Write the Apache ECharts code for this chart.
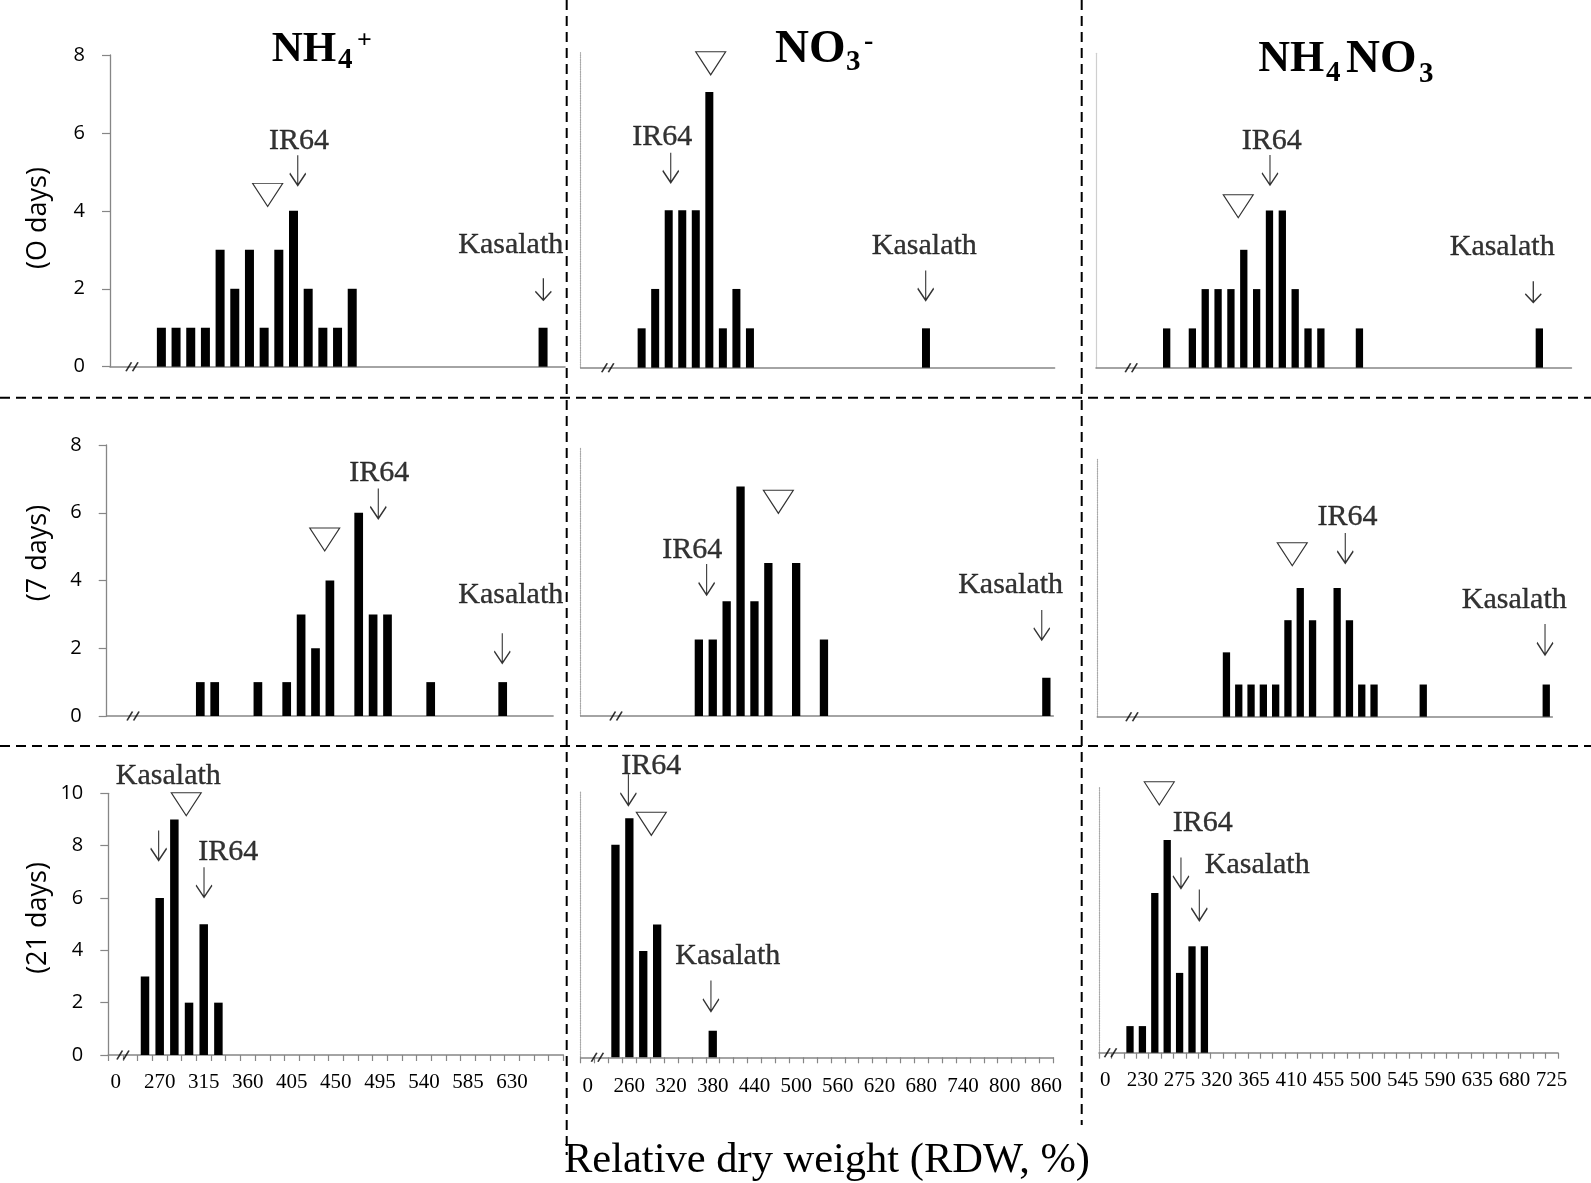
<!DOCTYPE html>
<html><head><meta charset="utf-8">
<script src="https://cdn.jsdelivr.net/npm/echarts@6/dist/echarts.min.js"></script>
<style>html,body{margin:0;padding:0;background:#fff}#c{width:1591px;height:1183px}</style>
</head><body><div id="c"></div>
<script>
// ---- category (bin) labels, RDW % ----
const binsNH4 = ['0','240','255','270','285','300','315','330','345','360','375','390','405','420','435','450','465','480','495','510','525','540','555','570','585','600','615','630','645','660','675'];
const binsNO3 = ['0','220','240','260','280','300','320','340','360','380','400','420','440','460','480','500','520','540','560','580','600','620','640','660','680','700','720','740','760','780','800','820','840','860','880'];
const binsNH4NO3 = ['0','200','215','230','245','260','275','290','305','320','335','350','365','380','395','410','425','440','455','470','485','500','515','530','545','560','575','590','605','620','635','650','665','680','695','710','725'];

// ---- number of lines per bin ----
const nh4Day0  = [0,0,0,1,1,1,1,3,2,3,1,3,4,2,1,1,2,0,0,0,0,0,0,0,0,0,0,0,0,1,0];
const nh4Day7  = [0,0,0,0,0,0,1,1,0,0,1,0,1,3,2,4,0,6,3,3,0,0,1,0,0,0,0,1,0,0,0];
const nh4Day21 = [0,0,3,6,9,2,5,2,0,0,0,0,0,0,0,0,0,0,0,0,0,0,0,0,0,0,0,0,0,0,0];
const no3Day0  = [0,0,0,0,1,2,4,4,4,7,1,2,1,0,0,0,0,0,0,0,0,0,0,0,0,1,0,0,0,0,0,0,0,0,0];
const no3Day7  = [0,0,0,0,0,0,0,0,2,2,3,6,3,4,0,4,0,2,0,0,0,0,0,0,0,0,0,0,0,0,0,0,0,1];
const no3Day21 = [0,0,8,9,4,5,0,0,0,1,0,0,0,0,0,0,0,0,0,0,0,0,0,0,0,0,0,0,0,0,0,0,0,0];
const nnDay0   = [0,0,0,0,0,1,0,1,2,2,2,3,2,4,4,2,1,1,0,0,1,0,0,0,0,0,0,0,0,0,0,0,0,0,1,0,0];
const nnDay7   = [0,0,0,0,0,0,0,0,0,0,2,1,1,1,1,3,4,3,0,4,3,1,1,0,0,0,1,0,0,0,0,0,0,0,0,0,1];
const nnDay21  = [0,0,1,1,6,8,3,4,4,0,0,0,0,0,0,0,0,0,0,0,0,0,0,0,0,0,0,0,0,0,0,0,0,0,0,0,0];

// ---- annotations in data units (x: bin position, y: count) ----
const notesNH4Day0  = [['text','IR64',12.87,5.78],['arrow',12.79,5.04,30],['tri',10.74,4.41],['text','Kasalath',27.3,3.12],['arrow',29.52,1.99,22],['break',1.5]];
const notesNH4Day7  = [['text','IR64',18.92,7.17],['arrow',18.86,6.27,30],['tri',15.14,5.21],['text','Kasalath',28.06,3.57],['arrow',27.47,2.0,30],['break',1.83]];
const notesNH4Day21 = [['text','Kasalath',4.09,10.66],['arrow',3.43,8.01,30],['tri',5.31,9.58],['text','IR64',8.17,7.76],['arrow',6.52,6.6,30],['break',1.0]];
const notesNO3Day0  = [['text','IR64',6.02,5.86],['arrow',6.65,5.08,30],['tri',9.6,7.73],['text','Kasalath',25.38,3.09],['arrow',25.48,2.09,30],['break',2.0]];
const notesNO3Day7  = [['text','IR64',8.02,4.35],['arrow',9.06,3.57,31],['tri',14.22,5.6],['text','Kasalath',30.93,3.42],['arrow',33.17,2.38,30],['break',2.54]];
const notesNO3Day21 = [['text','IR64',5.08,10.97],['arrow',3.43,10.07,31],['tri',5.08,8.79],['text','Kasalath',10.58,3.8],['arrow',9.37,2.31,31],['break',1.2]];
const notesNNDay0   = [['text','IR64',13.67,5.76],['arrow',13.54,5.03,30],['tri',11.07,4.11],['text','Kasalath',31.61,3.06],['arrow',34.03,1.93,21],['break',2.74]];
const notesNNDay7   = [['text','IR64',20.34,6.21],['arrow',20.16,5.24,30],['tri',15.85,5.05],['text','Kasalath',33.9,3.62],['arrow',36.4,2.4,31],['break',2.82]];
const notesNNDay21  = [['tri',4.86,9.75],['text','IR64',8.37,8.64],['arrow',6.61,6.76,31],['text','Kasalath',12.76,7.04],['arrow',8.09,5.55,31],['break',0.93]];

// ---- layout ----
const panels = [
  {bins:binsNH4, counts:nh4Day0, notes:notesNH4Day0, ymax:8, left:110, top:55, sp:14.68, h:311.7, ylab:true, yline:'solid', ticks:false, bw:9},
  {bins:binsNH4, counts:nh4Day7, notes:notesNH4Day7, ymax:8, left:106.7, top:445, sp:14.4, h:271, ylab:true, yline:'solid', ticks:false, bw:8.7},
  {bins:binsNH4, counts:nh4Day21, notes:notesNH4Day21, ymax:10, left:108.3, top:793.3, sp:14.68, h:261.7, ylab:true, yline:'solid', ticks:true, bw:8.5, lastLabel:27, lm:17},
  {bins:binsNO3, counts:no3Day0, notes:notesNO3Day0, ymax:8, left:580.7, top:52.7, sp:13.54, h:315, ylab:false, yline:'dotted', ticks:false, bw:8},
  {bins:binsNO3, counts:no3Day7, notes:notesNO3Day7, ymax:7, left:580.7, top:448.3, sp:13.9, h:267.7, ylab:false, yline:'dotted', ticks:false, bw:8.3},
  {bins:binsNO3, counts:no3Day21, notes:notesNO3Day21, ymax:10, left:580.7, top:791.7, sp:13.9, h:265.6, ylab:false, yline:'dotted', ticks:true, bw:8.3, lastLabel:33, lm:19},
  {bins:binsNH4NO3, counts:nnDay0, notes:notesNNDay0, ymax:8, left:1096, top:53.3, sp:12.85, h:314.4, ylab:false, yline:'light', ticks:false, bw:7.3},
  {bins:binsNH4NO3, counts:nnDay7, notes:notesNNDay7, ymax:8, left:1097.3, top:459.3, sp:12.3, h:257.4, ylab:false, yline:'dotted', ticks:false, bw:7.3},
  {bins:binsNH4NO3, counts:nnDay21, notes:notesNNDay21, ymax:10, left:1099, top:786.7, sp:12.4, h:266, ylab:false, yline:'dotted', ticks:true, bw:7.3, lastLabel:36, lm:17}
];

const SERIF = '"Liberation Serif","Times New Roman",serif';
const SANS = '"Open Sans","Liberation Sans",sans-serif';
const ARROW = 'path://M8,0 L8,30 M0,18 L8,30 L16,18';
const TRI = 'path://M0,0 L30,0 L15,23 Z';
const BRK = 'path://M0,9 L5,0 M6,9 L11,0';

const option = {animation:false, backgroundColor:'#fff', grid:[], xAxis:[], yAxis:[], series:[], graphic:{elements:[]}};

panels.forEach((p,i)=>{
  const n = p.counts.length;
  const last = p.lastLabel == null ? n : p.lastLabel;
  option.grid.push({left:p.left, top:p.top, width:n*p.sp, height:p.h, containLabel:false, outerBoundsMode:'none'});
  option.xAxis.push({type:'category', gridIndex:i, data:p.bins.slice(0,n), boundaryGap:true,
    axisLine:{show:true, onZero:false, lineStyle:{color:'#868686', width:1.5}},
    axisTick:{show:p.ticks, interval:0, length:6, lineStyle:{color:'#868686', width:1.2}},
    axisLabel:{show:p.ticks, interval:(idx)=>idx%3===0 && idx<=last, fontFamily:SERIF, fontSize:21, color:'#000', margin:p.lm||17, hideOverlap:false},
    splitLine:{show:false}});
  option.xAxis.push({type:'value', gridIndex:i, min:0, max:n, show:false});
  let yl;
  if (p.yline==='solid') yl = {color:'#868686', width:1.3, type:'solid'};
  else if (p.yline==='light') yl = {color:'#cfcfcf', width:1.2, type:'solid'};
  else yl = {color:'#a8a8a8', width:1.2, type:'dotted'};
  option.yAxis.push({type:'value', gridIndex:i, min:0, max:p.ymax, interval:2,
    axisLine:{show:true, lineStyle:yl},
    axisTick:{show:p.ylab, length:8, lineStyle:{color:'#868686', width:1.2}},
    axisLabel:{show:p.ylab, fontFamily:SANS, fontSize:20, color:'#000', margin:25},
    splitLine:{show:false}});
  option.series.push({type:'bar', xAxisIndex:2*i, yAxisIndex:i, data:p.counts, barWidth:p.bw, silent:true, itemStyle:{color:'#000'}});
  const pts = p.notes.map(nt=>{
    if (nt[0]==='text') return {value:[nt[2],nt[3]], symbol:'circle', symbolSize:1, itemStyle:{color:'rgba(0,0,0,0)'},
      label:{show:true, position:'inside', formatter:nt[1], fontFamily:SERIF, fontSize:30, color:'#000', textBorderColor:'#000', textBorderWidth:0.35}};
    if (nt[0]==='arrow') return {value:[nt[1],nt[2]], symbol:ARROW, symbolSize:[16,nt[3]], itemStyle:{color:'rgba(0,0,0,0)', borderColor:'#000', borderWidth:1.5}};
    if (nt[0]==='tri') return {value:[nt[1],nt[2]], symbol:TRI, symbolSize:[30,23], itemStyle:{color:'#fff', borderColor:'#000', borderWidth:1.1}};
    return {value:[nt[1],0], symbol:BRK, symbolSize:[12,9], itemStyle:{color:'rgba(0,0,0,0)', borderColor:'#000', borderWidth:1.5}};
  });
  option.series.push({type:'scatter', xAxisIndex:2*i+1, yAxisIndex:i, clip:false, silent:true, z:5, data:pts});
});

const G = option.graphic.elements;
function txt(x,y,t,font,align,rot){
  G.push({type:'text', x:x, y:y, rotation:rot||0, style:{text:t, font:font, fill:'#000', textAlign:align||'left', align:align||'left', textVerticalAlign:'middle', verticalAlign:'middle'}});
}
function dline(x1,y1,x2,y2){
  G.push({type:'line', shape:{x1,y1,x2,y2}, style:{stroke:'#000', lineWidth:2, lineDash:[10,6]}});
}
dline(566.7,0,566.7,1155);
dline(1081.7,0,1081.7,1125);
dline(0,397.7,1591,397.7);
dline(0,746,1591,746);

const TS = 'bold 29px '+SERIF;
txt(271.7,50,'NH','bold 43px '+SERIF); txt(338,61,'4',TS); txt(357,41,'+','bold 26px '+SERIF);
txt(775,50,'NO','bold 47px '+SERIF); txt(846,63,'3',TS); txt(864,42,'-','bold 28px '+SERIF);
txt(1258.3,60,'NH','bold 44px '+SERIF); txt(1326,74,'4',TS); txt(1346,60,'NO','bold 47px '+SERIF); txt(1419,75,'3',TS);

txt(38.5,218,'(O days)','27px '+SANS,'center',Math.PI/2);
txt(38.5,553,'(7 days)','27px '+SANS,'center',Math.PI/2);
txt(38.5,918,'(21 days)','27px '+SANS,'center',Math.PI/2);
txt(827,1161,'Relative dry weight (RDW, %)','42.5px '+SERIF,'center');

const chart = echarts.init(document.getElementById('c'));
chart.setOption(option);
</script></body></html>
